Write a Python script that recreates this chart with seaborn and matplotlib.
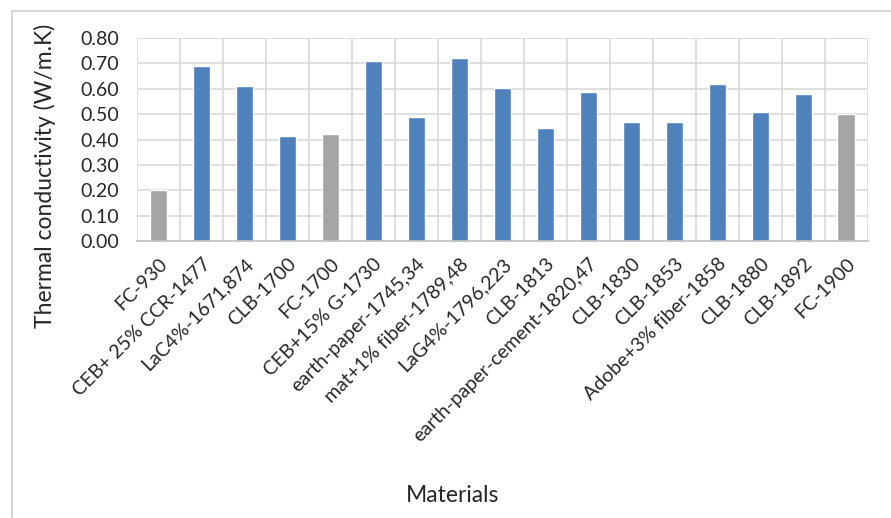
from matplotlib import pyplot as plt
from matplotlib.lines import Line2D
import seaborn as sns
import pandas as pd

materials = ['FC-930', 'CEB+ 25% CCR-1477', 'LaC4%-1671,874', 'CLB-1700', 'FC-1700',
             'CEB+15% G-1730', 'earth-paper-1745,34', 'mat+1% fiber-1789,48',
             'LaG4%-1796,223', 'CLB-1813', 'earth-paper-cement-1820,47', 'CLB-1830',
             'CLB-1853', 'Adobe+3% fiber-1858', 'CLB-1880', 'CLB-1892', 'FC-1900']
conductivity = [0.20, 0.69, 0.61, 0.415, 0.423, 0.71, 0.49, 0.72, 0.603, 0.445,
                0.589, 0.47, 0.47, 0.62, 0.507, 0.578, 0.50]
group = ['FC', 'other', 'other', 'other', 'FC', 'other', 'other', 'other', 'other',
         'other', 'other', 'other', 'other', 'other', 'other', 'other', 'FC']
colors = {'FC': '#A5A5A5', 'other': '#4F81BD'}

df = pd.DataFrame({'material': materials, 'k': conductivity, 'group': group})

sns.set_style('white')
plt.rcParams['font.family'] = ['Lato', 'DejaVu Sans']

fig = plt.figure(figsize=(8.91, 5.18), dpi=100)
ax = fig.add_axes([0.1538, 0.5347, 0.8199, 0.3919])

sns.barplot(data=df, x='material', y='k', hue='group', palette=colors,
            legend=False, width=0.4, ax=ax, saturation=1, dodge=False)

ax.set_ylim(0, 0.8)
ax.set_xlim(-0.5, len(materials) - 0.5)
ax.set_yticks([i / 10 for i in range(9)])
ax.set_yticklabels(['%.2f' % (i / 10) for i in range(9)], fontsize=14)
ax.set_xticks(range(len(materials)))
ax.set_xticklabels(materials, rotation=45, ha='right', rotation_mode='anchor',
                   fontsize=14)
ax.tick_params(axis='y', length=0, pad=13)
ax.tick_params(axis='x', length=0, pad=10)

# Excel-style grid: horizontal lines plus category boundaries
for v in [i / 10 for i in range(1, 9)]:
    ax.axhline(v, color='#D9D9D9', lw=1.2, zorder=0)
for b in range(len(materials) + 1):
    ax.axvline(b - 0.5, color='#D9D9D9', lw=1.2, zorder=0)
for s in ['top', 'right', 'left']:
    ax.spines[s].set_visible(False)
ax.spines['bottom'].set_color('#BFBFBF')
ax.spines['bottom'].set_linewidth(1.2)
ax.set_axisbelow(True)
ax.set_xlabel('')
ax.set_ylabel('')

fig.text(0.051, 0.66, 'Thermal conductivity (W/m.K)', rotation=90, ha='center',
         va='center', fontsize=16.5)
fig.text(0.508, 0.044, 'Materials', ha='center', va='center', fontsize=16.5)

# chart frame (left and top edges)
fig.add_artist(Line2D([0.0135, 0.0135], [0, 1 - 11 / 518], color='#D0D0D0', lw=1.2))
fig.add_artist(Line2D([0.0135, 1], [1 - 11 / 518, 1 - 11 / 518], color='#D0D0D0', lw=1.2))

fig.savefig('out.png', dpi=100)
